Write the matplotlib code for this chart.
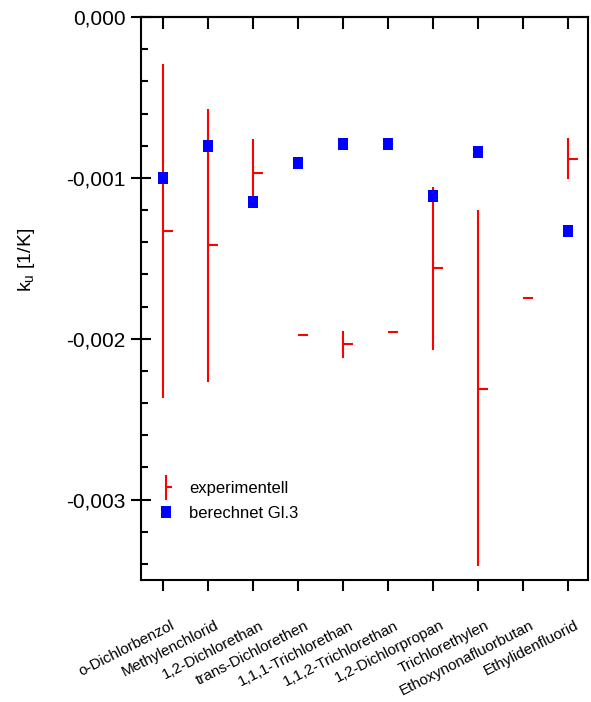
import numpy as np
import matplotlib.pyplot as plt
from matplotlib.path import Path
from matplotlib.ticker import FuncFormatter, MultipleLocator
from matplotlib.legend_handler import HandlerErrorbar
from matplotlib.transforms import ScaledTranslation

plt.rcParams['font.family'] = ['Liberation Sans', 'DejaVu Sans']

# Stoffe
stoffe = ["o-Dichlorbenzol", "Methylenchlorid", "1,2-Dichlorethan", "trans-Dichlorethen",
          "1,1,1-Trichlorethan", "1,1,2-Trichlorethan", "1,2-Dichlorpropan",
          "Trichlorethylen", "Ethoxynonafluorbutan", "Ethylidenfluorid"]

# experimentelle Werte und Streubereich (oben / unten)
exp_wert = [-0.00133, -0.00142, -0.00097, -0.00198, -0.00203, -0.00196, -0.00156, -0.00231, -0.00175, -0.00088]
exp_oben = [-0.00029, -0.00057, -0.00076, np.nan, -0.00195, np.nan, -0.00106, -0.00120, np.nan, -0.00075]
exp_unten = [-0.00237, -0.00227, -0.00119, np.nan, -0.00212, np.nan, -0.00207, -0.00341, np.nan, -0.00101]

# berechnet nach Gl.3
berechnet = [-0.00100, -0.00080, -0.00115, -0.00091, -0.00079, -0.00079, -0.00111, -0.00084, np.nan, -0.00133]

x = np.arange(len(stoffe))
wert = np.array(exp_wert)
err_unten = np.nan_to_num(wert - np.array(exp_unten))
err_oben = np.nan_to_num(np.array(exp_oben) - wert)

# Marker: kleiner Strich nach rechts
strich = Path([(0, 0), (1, 0)], [Path.MOVETO, Path.LINETO])
quadrat = Path([(-5, -6), (5, -6), (5, 6), (-5, 6), (-5, -6)],
               [Path.MOVETO, Path.LINETO, Path.LINETO, Path.LINETO, Path.CLOSEPOLY])

fig = plt.figure(figsize=(5.91, 7.02), dpi=100)
ax = fig.add_axes([0.238, 0.1738, 0.757, 0.802])

ax.errorbar(x, wert, yerr=[err_unten, err_oben], fmt='none', ecolor='#ff0000',
            elinewidth=1.5, capsize=0, zorder=2)
ax.plot(x, wert, linestyle='none', marker=strich, markersize=15, markeredgewidth=1.5,
        color='#ff0000', zorder=2)
ax.plot(x, berechnet, linestyle='none', marker=quadrat, markersize=8.6,
        color='#0000ff', markeredgewidth=0, zorder=3)

# Legende (Handles separat)
h_exp = ax.errorbar([np.nan], [np.nan], yerr=[[1], [1]], fmt='none', ecolor='#ff0000',
                    elinewidth=1.5, capsize=0)
h_exp_m, = ax.plot([np.nan], [np.nan], linestyle='none', marker=strich, markersize=8,
                   markeredgewidth=1.5, color='#ff0000')
h_ber, = ax.plot([np.nan], [np.nan], linestyle='none', marker=quadrat, markersize=8.6,
                 color='#0000ff', markeredgewidth=0)
ax.legend([(h_exp, h_exp_m), h_ber], ["experimentell", "berechnet Gl.3"],
          loc='upper left', bbox_to_anchor=(0.0, 0.2025), frameon=False,
          fontsize=12, handlelength=1.2, handletextpad=0.8, labelspacing=0.58,
          handler_map={type(h_exp): HandlerErrorbar(yerr_size=0.75)})

ax.set_xlim(-0.5, 9.45)
ax.set_ylim(-0.0035, 0)

ax.yaxis.set_major_locator(MultipleLocator(0.001))
ax.yaxis.set_minor_locator(MultipleLocator(0.0002))
ax.yaxis.set_major_formatter(FuncFormatter(lambda v, p: "0,000" if abs(v) < 1e-9 else f"{v:.3f}".replace('.', ',')))
ax.tick_params(axis='y', which='major', direction='inout', length=14, width=1.5, labelsize=15, pad=4)
ax.tick_params(axis='y', which='minor', direction='in', length=5, width=1.5)

ax.set_xticks(x)
ax.set_xticklabels(stoffe, rotation=27, ha='right', va='center', rotation_mode='anchor', fontsize=11)
ax.tick_params(axis='x', direction='out', length=8, width=1.5, pad=24)
versatz = ScaledTranslation(10 / 100, 0, fig.dpi_scale_trans)
for lab in ax.get_xticklabels():
    lab.set_transform(lab.get_transform() + versatz)

oben = ax.secondary_xaxis('top')
oben.set_xticks(x)
oben.tick_params(direction='in', length=8.6, width=1.5, labeltop=False)
oben.spines['top'].set_linewidth(1.5)

for s in ax.spines.values():
    s.set_linewidth(1.5)

ax.set_ylabel(r'k$_\mathregular{u}$ [1/K]', fontsize=14)
ax.yaxis.set_label_coords(-0.232, 0.568)

plt.savefig("out.png", dpi=100)
